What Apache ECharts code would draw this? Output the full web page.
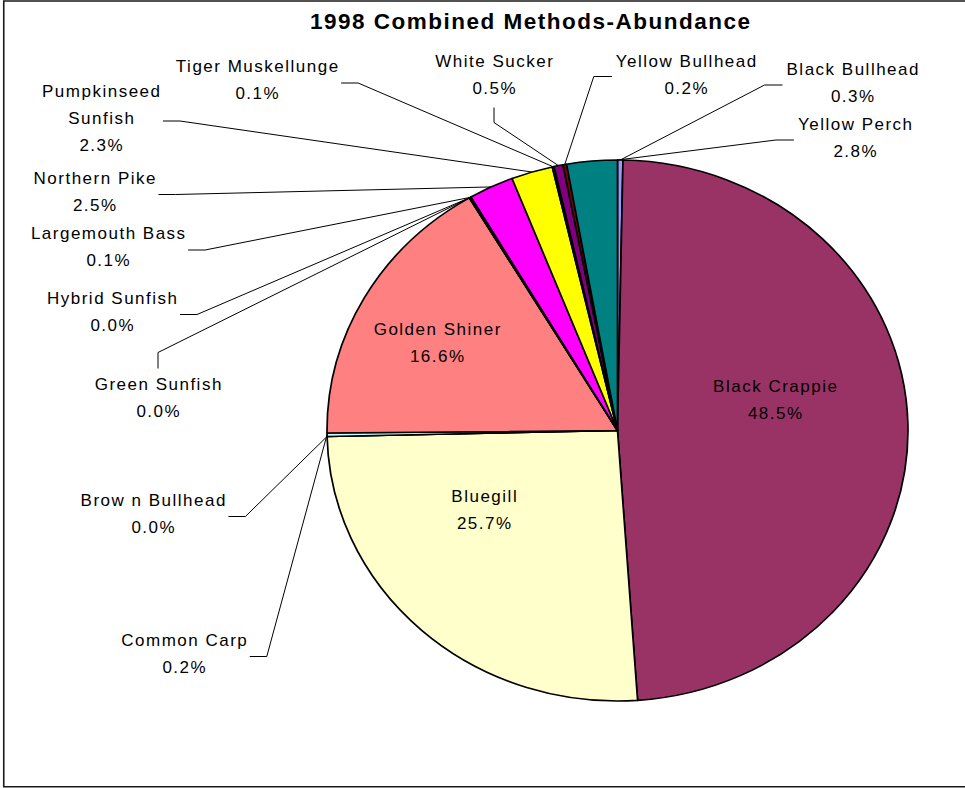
<!DOCTYPE html>
<html>
<head>
<meta charset="utf-8">
<title>1998 Combined Methods-Abundance</title>
<script src="https://cdn.jsdelivr.net/npm/echarts@6/dist/echarts.min.js"></script>
<style>
  html, body { margin: 0; padding: 0; background: #fff; }
  #wrap { position: relative; width: 965px; height: 788px; overflow: hidden; background: #fff; }
  #slices, #labels { position: absolute; left: 0; top: 0; width: 965px; height: 788px; }
  /* the pie is drawn as a circle and widened into the ellipse of the plot area */
  #slices { transform-origin: 617.5px 430.5px; transform: scaleX(1.0739); }
  /* wide printer-style character spacing of the chart text */
  #labels text { letter-spacing: 1.5px; }
</style>
</head>
<body>
<div id="wrap">
  <div id="slices"></div>
  <div id="labels"></div>
</div>
<script>
// ---- data -------------------------------------------------------------
const chartTitle = '1998 Combined Methods-Abundance';

const species = [
  'Black Bullhead', 'Black Crappie', 'Bluegill', 'Brow n Bullhead', 'Common Carp',
  'Golden Shiner', 'Green Sunfish', 'Hybrid Sunfish', 'Largemouth Bass', 'Northern Pike',
  'Pumpkinseed Sunfish', 'Tiger Muskellunge', 'White Sucker', 'Yellow Bullhead', 'Yellow Perch'
];

// share of the combined catch, percent
const abundancePct = [0.3, 48.5, 25.7, 0.0, 0.2, 16.6, 0.0, 0.0, 0.1, 2.5, 2.3, 0.1, 0.5, 0.2, 2.8];

const sliceColors = [
  '#9999FF', '#993366', '#FFFFCC', '#660066', '#CCFFFF',
  '#FF8080', '#0066CC', '#CCCCFF', '#000080', '#FF00FF',
  '#FFFF00', '#00FFFF', '#800080', '#800000', '#008080'
];

// ---- layout -----------------------------------------------------------
const CX = 617.5, CY = 430.5;       // pie centre
const RX = 290.5, RY = 270.5;       // horizontal / vertical radius
const LETTER_SPACING = 1.5;
const LABEL_FONT_SIZE = 17;
const LABEL_FONT_FAMILY = 'Liberation Sans';
const LINE_H = 27;

// where each data label sits (centre of the text block) and which side its leader leaves from
const labelPlacement = [
  { x: 852.5, y: 83,    side: 'left',  attach: 0.5 },
  { x: 775,   y: 400,   side: 'inside' },
  { x: 484,   y: 510,   side: 'inside' },
  { x: 153,   y: 513.5, side: 'right', attach: 0.5 },
  { x: 184,   y: 653.5, side: 'right', attach: 0.5 },
  { x: 437,   y: 342.5, side: 'inside' },
  { x: 158,   y: 397.5, side: 'top',   attach: 0.5 },
  { x: 112,   y: 311.5, side: 'right', attach: 0.5 },
  { x: 108,   y: 247,   side: 'right', attach: 0.5 },
  { x: 94.5,  y: 191.5, side: 'right', attach: 0.5 },
  { x: 101,   y: 118,   side: 'right', attach: 0.5 },
  { x: 257,   y: 80,    side: 'right', attach: 0.5 },
  { x: 494,   y: 74.5,  side: 'bottom', attach: 0.5 },
  { x: 686,   y: 74.5,  side: 'left',  attach: 0.5 },
  { x: 855,   y: 138,   side: 'left',  attach: 1 }
];

// ---- helpers ----------------------------------------------------------
const total = abundancePct.reduce((a, b) => a + b, 0);

function labelText(name, value) {
  const shownName = name.length > 18 ? name.replace(' ', '\n') : name;
  return shownName + '\n' + value.toFixed(1) + '%';
}

const measureCtx = document.createElement('canvas').getContext('2d');
function inkWidth(str) {
  measureCtx.font = LABEL_FONT_SIZE + 'px "' + LABEL_FONT_FAMILY + '"';
  return measureCtx.measureText(str).width + LETTER_SPACING * (str.length - 1);
}

// point on the (widened) pie rim at a given fraction through slice i
function rimPoint(i, along) {
  let before = 0;
  for (let k = 0; k < i; k++) before += abundancePct[k];
  const t = (before + along * abundancePct[i]) / total;
  const a = t * Math.PI * 2;
  return [CX + RX * Math.sin(a), CY - RY * Math.cos(a)];
}

function placeLabel(params) {
  const i = params.dataIndex;
  const place = labelPlacement[i];
  const lines = labelText(species[i], abundancePct[i]).split('\n');
  const w = Math.max.apply(null, lines.map(inkWidth));
  const h = lines.length * LINE_H;
  const out = {
    x: place.x + LETTER_SPACING / 2,
    y: place.y,
    align: 'center',
    verticalAlign: 'middle'
  };
  if (place.side === 'inside') return out;
  let end, elbow;
  if (place.side === 'right') {
    end = [place.x + w / 2 + 3, place.y + 3];
    elbow = [end[0] + 17, end[1]];
  } else if (place.side === 'left') {
    end = [place.x - w / 2 - 4, place.y + 2];
    elbow = [end[0] - 18, end[1]];
  } else if (place.side === 'top') {
    end = [place.x, place.y - h / 2 - 2];
    elbow = [end[0], end[1] - 16];
  } else {
    end = [place.x, place.y + h / 2 + 6];
    elbow = [end[0], end[1] + 15];
  }
  out.labelLinePoints = [rimPoint(i, place.attach), elbow, end];
  return out;
}

// ---- slices -----------------------------------------------------------
const sliceChart = echarts.init(document.getElementById('slices'), null, { renderer: 'svg' });
sliceChart.setOption({
  animation: false,
  series: [{
    type: 'pie',
    center: [CX, CY],
    radius: RY,
    startAngle: 90,
    clockwise: true,
    silent: true,
    label: { show: false },
    labelLine: { show: false },
    itemStyle: { borderColor: '#000', borderWidth: 1.6 },
    data: species.map((name, i) => ({
      name: name,
      value: abundancePct[i],
      itemStyle: { color: sliceColors[i] }
    }))
  }]
});

// ---- title, frame and data labels ------------------------------------
const labelChart = echarts.init(document.getElementById('labels'), null, { renderer: 'svg' });
labelChart.setOption({
  animation: false,
  graphic: [
    {
      type: 'rect',
      silent: true,
      shape: { x: 3.75, y: 1, width: 1000, height: 785.8 },
      style: { fill: 'none', stroke: '#1a1a1a', lineWidth: 1.6 }
    },
    {
      type: 'text',
      silent: true,
      x: 530 + LETTER_SPACING / 2,
      y: 21,
      style: {
        text: chartTitle,
        font: 'bold 22.5px "Liberation Sans"',
        fill: '#000',
        align: 'center',
        verticalAlign: 'middle',
        textAlign: 'center',
        textVerticalAlign: 'middle'
      }
    }
  ],
  series: [{
    type: 'pie',
    center: [CX, CY],
    radius: RY,
    startAngle: 90,
    clockwise: true,
    silent: true,
    avoidLabelOverlap: false,
    itemStyle: { color: 'rgba(0,0,0,0)', borderWidth: 0 },
    label: {
      show: true,
      position: 'outside',
      color: '#000',
      fontSize: LABEL_FONT_SIZE,
      fontFamily: LABEL_FONT_FAMILY,
      lineHeight: LINE_H,
      align: 'center',
      formatter: p => labelText(p.name, p.value)
    },
    labelLine: {
      show: true,
      smooth: false,
      lineStyle: { color: '#000', width: 1 }
    },
    labelLayout: placeLabel,
    data: species.map((name, i) => {
      const item = { name: name, value: abundancePct[i] };
      if (labelPlacement[i].side === 'inside') {
        item.label = { position: 'inside' };
        item.labelLine = { show: false };
      }
      return item;
    })
  }]
});
</script>
</body>
</html>
